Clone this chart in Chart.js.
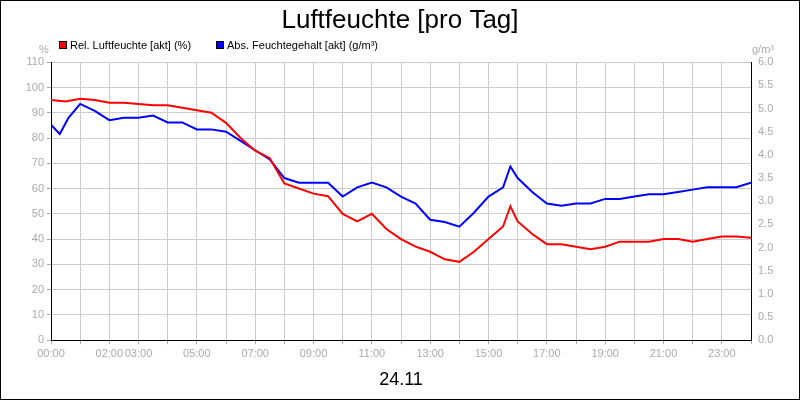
<!DOCTYPE html><html><head><script src="https://cdn.jsdelivr.net/npm/chart.js@4"></script>
<style>body{margin:0}#w{width:798px;height:398px;border:1px solid #000;position:relative}</style></head><body><div id="w"><canvas id="c" width="798" height="398"></canvas></div>
<script>
const relHours=[0,0.5,1,1.5,2,2.5,3,3.5,4,4.5,5,5.5,6,6.5,7,7.5,8,8.5,9,9.5,10,10.5,11,11.5,12,12.5,13,13.5,14,14.5,15,15.5,15.75,16,16.5,17,17.5,18,18.5,19,19.5,20,20.5,21,21.5,22,22.5,23,23.5,24];
const relValues=[95,94.5,95.5,95,94,94,93.5,93,93,92,91,90,86,80,75,72,62,60,58,57,50,47,50,44,40,37,35,32,31,35,40,45,53,47,42,38,38,37,36,37,39,39,39,40,40,39,40,41,41,40.5];
const absHours=[0,0.3,0.6,1,1.5,2,2.5,3,3.5,4,4.5,5,5.5,6,6.5,7,7.5,8,8.5,9,9.5,10,10.5,11,11.5,12,12.5,13,13.5,14,14.5,15,15.5,15.75,16,16.5,17,17.5,18,18.5,19,19.5,20,20.5,21,21.5,22,22.5,23,23.5,24];
const absValues=[4.65,4.45,4.8,5.1,4.95,4.75,4.8,4.8,4.85,4.7,4.7,4.55,4.55,4.5,4.3,4.1,3.9,3.5,3.4,3.4,3.4,3.1,3.3,3.4,3.3,3.1,2.95,2.6,2.55,2.45,2.75,3.1,3.3,3.75,3.5,3.2,2.95,2.9,2.95,2.95,3.05,3.05,3.1,3.15,3.15,3.2,3.25,3.3,3.3,3.3,3.4];
const tickLabels={0:'00:00',2:'02:00',3:'03:00',5:'05:00',7:'07:00',9:'09:00',11:'11:00',13:'13:00',15:'15:00',17:'17:00',19:'19:00',21:'21:00',23:'23:00'};
const extra={id:'extra',afterDraw(ch){const c=ch.ctx;c.save();c.font='11px Arial';c.fillStyle='#aaa';c.textAlign='center';
c.fillText('%',43,52);c.fillText('g/m³',762,52);
c.textAlign='left';
[['#f00','Rel. Luftfeuchte [akt] (%)',58],['#00f','Abs. Feuchtegehalt [akt] (g/m³)',215]].forEach(([col,t,x])=>{c.fillStyle=col;c.fillRect(x,40,8,8);c.strokeStyle='#000';c.strokeRect(x+.5,40.5,7,7);c.fillStyle='#000';c.fillText(t,x+11,48);});
c.restore();}};
new Chart(document.getElementById('c'),{type:'line',data:{datasets:[
{data:relHours.map((h,i)=>({x:h,y:relValues[i]})),borderColor:'#f00',borderWidth:2,pointRadius:0,yAxisID:'y'},
{data:absHours.map((h,i)=>({x:h,y:absValues[i]})),borderColor:'#00f',borderWidth:2,pointRadius:0,yAxisID:'y2'}]},
options:{animation:false,responsive:false,devicePixelRatio:1,layout:{padding:{top:0,left:0,right:0,bottom:0}},
plugins:{legend:{display:false},tooltip:{enabled:false},title:{display:true,text:'Luftfeuchte [pro Tag]',color:'#000',font:{size:26,family:'Arial',weight:'normal'},padding:{top:4,bottom:26}}},
scales:{x:{type:'linear',min:0,max:24,ticks:{stepSize:1,autoSkip:false,maxRotation:0,color:'#aaa',font:{size:11,family:'Arial'},callback:v=>tickLabels[v]||''},grid:{color:'#ccc',tickColor:'#aaa',tickLength:4},border:{color:'#000'},title:{display:true,text:'24.11',color:'#000',font:{size:18,family:'Arial'},padding:{top:6,bottom:8}}},
y:{min:0,max:110,ticks:{stepSize:10,color:'#aaa',font:{size:11,family:'Arial'}},grid:{color:'#ccc',tickColor:'#aaa',tickLength:4},border:{color:'#000'},afterFit(s){s.width=50}},
y2:{position:'right',min:0,max:6,ticks:{stepSize:0.5,color:'#aaa',font:{size:11,family:'Arial'},callback:v=>v.toFixed(1)},grid:{display:false,tickColor:'#aaa',tickLength:4},border:{color:'#000'},afterFit(s){s.width=48}}}},
plugins:[extra]});
</script></body></html>
